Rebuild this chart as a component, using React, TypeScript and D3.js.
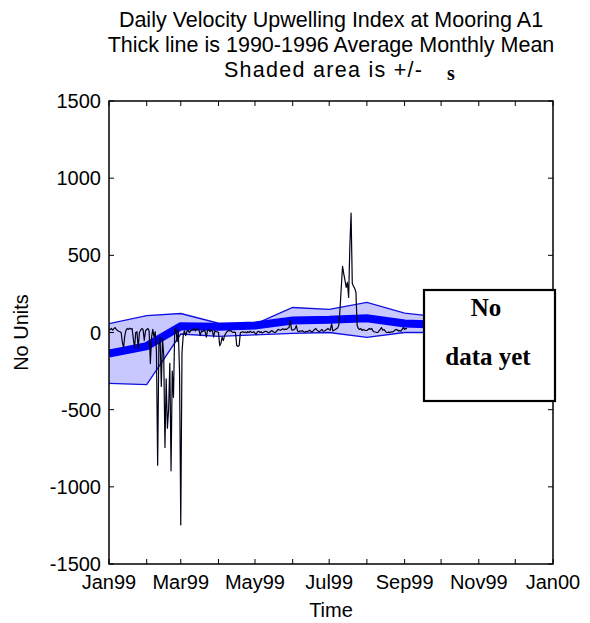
import React from "react";
import * as d3 from "d3";

// ---- data ----
const dailyStart = new Date(1999, 0, 1);
const dailyValues: number[] = [
  // Jan
  13, 20, 26, 15, 25, 32, 20, 13, 8, 5, 0, -65, -97, -20, 15, 26, 20, 28, 22, 26, -40, -97, 0, 5, -104, 0, 15, 26, 20, -52, 10,
  // Feb
  20, 26, 10, -200, -30, 20, -30, 5, -120, -860, -80, -30, -350, -40, -150, -745, -300, -620, -500, -200, -896, -250, -420, 13, 30, -60, 15, -260,
  // Mar
  -1247, -130, -20, 10, -20, 5, 15, 0, 8, 20, 15, 26, 10, 20, 26, 15, -20, 10, 5, 15, 8, -30, 13, 20, 5, 15, 10, -30, 10, 5, 5,
  // Apr
  0, -85, -71, -30, -52, -20, -6, 5, 13, 10, 13, 5, 0, 2, 0, -85, -90, -85, 0, 2, 5, 0, 3, -2, 5, 0, 8, 2, 0, 5,
  // May
  -5, -13, 5, 8, 0, 5, -3, 2, 6, 8, 5, -2, 0, 8, 12, 5, 0, 2, 10, 20, 18, 15, 20, 25, 18, 22, 20, 28, 32, 78, 20,
  // Jun
  15, 20, 25, 45, 10, 5, 10, 8, 12, 5, 2, 8, 5, 10, 15, 8, 2, 12, 20, 26, 15, 10, 5, 12, 20, 8, 10, 15, 20, 26,
  // Jul
  20, 15, 58, 10, 15, 20, 25, 30, 50, 162, 300, 429, 380, 338, 292, 325, 227, 560, 773, 318, 300, 286, 260, 45, 26, 20, 26, 13, 20, 15, 13,
  // Aug
  13, 20, 26, 20, 26, 10, 5, 3, 0, 0, 10, 20, 32, 15, 20, 10, 0, 0, 2, 0, 5, 3, 8, 15, 20, 18, 10, 12, 8, 20, 32,
  // Sep
  20, 26, 25,
];

const monthlyMean: number[] = [-136, -88, 40, 38, 45, 78, 82, 92, 58, 50, 40, 30];
const monthlyUpper: number[] = [58, 110, 123, 60, 55, 162, 150, 195, 125, 100, 90, 80];
const monthlyLower: number[] = [-330, -338, -10, -25, -15, -6, 0, -32, 0, 0, -5, -10];

const yTicks: number[] = [-1500, -1000, -500, 0, 500, 1000, 1500];
const titleLines: string[] = [
  "Daily Velocity Upwelling Index at Mooring A1",
  "Thick line is 1990-1996 Average Monthly Mean",
  "Shaded area is +/-",
];

const W = 590;
const H = 623;
const L = 109, R = 553, T = 101, B = 564;

export default function App() {
  const x = d3.scaleTime().domain([new Date(1999, 0, 1), new Date(2000, 0, 1)]).range([L, R]);
  const y = d3.scaleLinear().domain([-1500, 1500]).range([B, T]);

  const months = d3.timeMonth.range(new Date(1999, 0, 1), new Date(2000, 0, 1));
  const monthTicks = d3.timeMonth.range(new Date(1999, 0, 1), new Date(2000, 0, 2));
  const fmt = d3.timeFormat("%b%y");

  const band = months.map((m, i) => ({ d: m, lo: monthlyLower[i], hi: monthlyUpper[i], mean: monthlyMean[i] }));
  const area = d3.area<any>().x((p) => x(p.d)).y0((p) => y(p.lo)).y1((p) => y(p.hi));
  const upperLine = d3.line<any>().x((p) => x(p.d)).y((p) => y(p.hi));
  const lowerLine = d3.line<any>().x((p) => x(p.d)).y((p) => y(p.lo));
  const meanLine = d3.line<any>().x((p) => x(p.d)).y((p) => y(p.mean));

  const daily = dailyValues.map((v, i) => ({ d: d3.timeDay.offset(dailyStart, i), v }));
  const dailyLine = d3.line<any>().x((p) => x(p.d)).y((p) => y(p.v));

  const sans = "'Liberation Sans', Arial, Helvetica, sans-serif";
  const serif = "'Liberation Serif', 'Times New Roman', serif";
  const tickLen = 5;

  return (
    <svg width={W} height={H} style={{ position: "absolute", left: 0, top: 0, background: "#fff" }}>
      <rect x={0} y={0} width={W} height={H} fill="#fff" />
      <defs>
        <clipPath id="plotclip">
          <rect x={L} y={T} width={R - L} height={B - T} />
        </clipPath>
      </defs>
      <g clipPath="url(#plotclip)">
        <path d={area(band) || ""} fill="#c8c8ff" stroke="none" />
        <path d={upperLine(band) || ""} fill="none" stroke="#1010e0" strokeWidth={1.3} />
        <path d={lowerLine(band) || ""} fill="none" stroke="#1010e0" strokeWidth={1.3} />
        <path d={meanLine(band) || ""} fill="none" stroke="#0000ff" strokeWidth={8} />
        <path d={dailyLine(daily) || ""} fill="none" stroke="#000018" strokeWidth={1.2} strokeLinejoin="round" />
      </g>

      {/* axes frame */}
      <rect x={L} y={T} width={R - L} height={B - T} fill="none" stroke="#000" strokeWidth={1.5} />
      {yTicks.map((t) => (
        <g key={"y" + t}>
          <line x1={L} x2={L + tickLen} y1={y(t)} y2={y(t)} stroke="#000" />
          <line x1={R} x2={R - tickLen} y1={y(t)} y2={y(t)} stroke="#000" />
          <text x={L - 8} y={y(t)} dy="0.35em" textAnchor="end" fontFamily={sans} fontSize={20}>
            {t}
          </text>
        </g>
      ))}
      {monthTicks.map((m, i) => (
        <g key={"x" + i}>
          <line x1={x(m)} x2={x(m)} y1={B} y2={B - tickLen} stroke="#000" />
          <line x1={x(m)} x2={x(m)} y1={T} y2={T + tickLen} stroke="#000" />
          {m.getMonth() % 2 === 0 ? (
            <text x={x(m)} y={B + 25} textAnchor="middle" fontFamily={sans} fontSize={20}>
              {fmt(m)}
            </text>
          ) : null}
        </g>
      ))}

      {/* titles */}
      <text x={(L + R) / 2} y={27} textAnchor="middle" fontFamily={sans} fontSize={21.5}>
        {titleLines[0]}
      </text>
      <text x={(L + R) / 2} y={52} textAnchor="middle" fontFamily={sans} fontSize={21.5}>
        {titleLines[1]}
      </text>
      <text x={224} y={77} fontFamily={sans} fontSize={21.5} textLength={198} lengthAdjust="spacing">
        {titleLines[2]}
      </text>
      <text x={451} y={80} textAnchor="middle" fontFamily={serif} fontWeight="bold" fontSize={20}>
        s
      </text>

      <text x={(L + R) / 2} y={617} textAnchor="middle" fontFamily={sans} fontSize={20}>
        Time
      </text>
      <text transform={`translate(28, ${(T + B) / 2}) rotate(-90)`} textAnchor="middle" fontFamily={sans} fontSize={20}>
        No Units
      </text>

      {/* No data yet box */}
      <rect x={424} y={290} width={131} height={111} fill="#fff" stroke="#000" strokeWidth={2.2} />
      <text x={486} y={316} textAnchor="middle" fontFamily={serif} fontWeight="bold" fontSize={25}>
        No
      </text>
      <text x={488} y={365} textAnchor="middle" fontFamily={serif} fontWeight="bold" fontSize={25}>
        data yet
      </text>
    </svg>
  );
}
